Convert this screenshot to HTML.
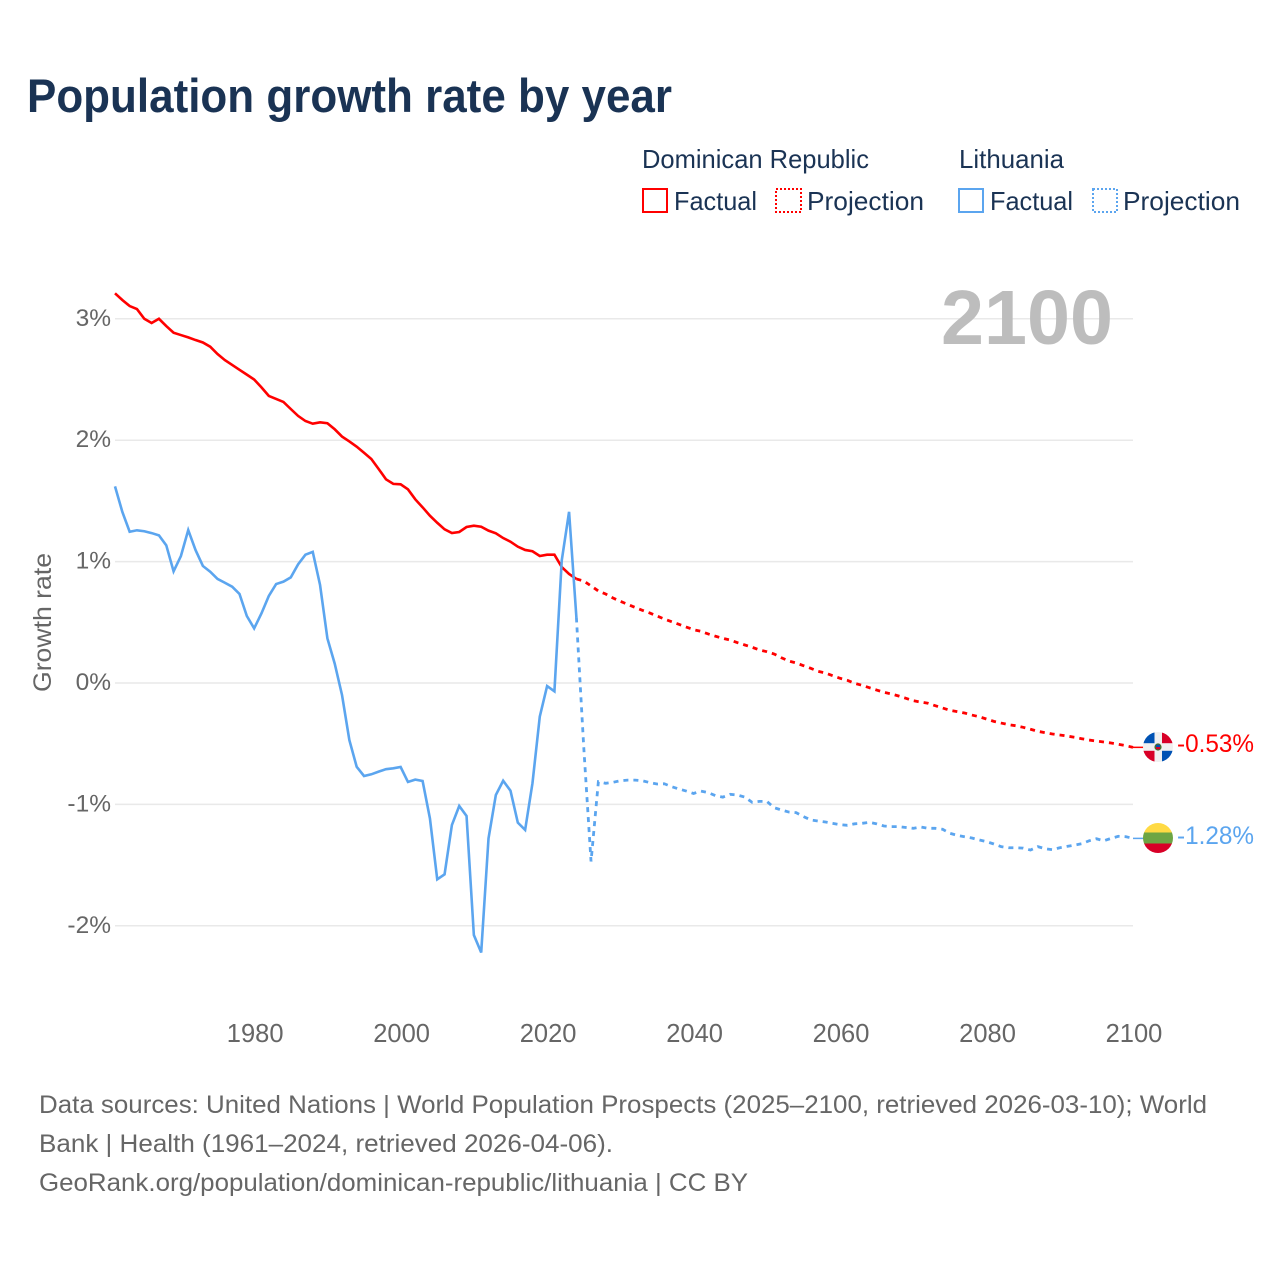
<!DOCTYPE html>
<html lang="en">
<head>
<meta charset="utf-8">
<title>Population growth rate by year</title>
<style>
  html, body { margin: 0; padding: 0; background: #fff; }
  svg { display: block; font-family: "Liberation Sans", sans-serif; }
</style>
</head>
<body>
<svg id="chart" xmlns="http://www.w3.org/2000/svg" width="1280" height="1280" viewBox="0 0 1280 1280">
  <rect x="0" y="0" width="1280" height="1280" fill="#ffffff"/>
  <text x="27" y="112" font-size="47" font-weight="700" fill="#1a3354" textLength="645" lengthAdjust="spacingAndGlyphs">Population growth rate by year</text>

  <g font-size="26" fill="#1a3354">
    <text x="642" y="168" textLength="227" lengthAdjust="spacingAndGlyphs">Dominican Republic</text>
    <text x="959" y="168" textLength="105" lengthAdjust="spacingAndGlyphs">Lithuania</text>
    <g>
      <rect x="643" y="189" width="24" height="23" fill="none" stroke="#ff0000" stroke-width="2"/>
      <text x="674" y="210" textLength="83" lengthAdjust="spacingAndGlyphs">Factual</text>
    </g>
    <g>
      <rect x="776" y="189" width="25" height="23" fill="none" stroke="#ff0000" stroke-width="2" stroke-dasharray="2 2"/>
      <text x="807" y="210" textLength="117" lengthAdjust="spacingAndGlyphs">Projection</text>
    </g>
    <g>
      <rect x="959" y="189" width="24" height="23" fill="none" stroke="#5ba5ef" stroke-width="2"/>
      <text x="990" y="210" textLength="83" lengthAdjust="spacingAndGlyphs">Factual</text>
    </g>
    <g>
      <rect x="1093" y="189" width="24" height="23" fill="none" stroke="#5ba5ef" stroke-width="2" stroke-dasharray="2 2"/>
      <text x="1123" y="210" textLength="117" lengthAdjust="spacingAndGlyphs">Projection</text>
    </g>
  </g>

  <g id="grid"></g>
  <text x="941" y="344" font-size="77" font-weight="700" fill="#bdbdbd" textLength="172" lengthAdjust="spacingAndGlyphs">2100</text>
  <g id="yticks"></g>
  <g id="xticks"></g>
  <text transform="translate(51,622.5) rotate(-90)" text-anchor="middle" font-size="25" fill="#666666" textLength="139" lengthAdjust="spacingAndGlyphs">Growth rate</text>
  <g id="series"></g>

  <defs>
    <clipPath id="flag-clip-do"><circle id="clip-do" cx="1158" cy="747" r="15"/></clipPath>
    <clipPath id="flag-clip-lt"><circle id="clip-lt" cx="1158" cy="838" r="15"/></clipPath>
  </defs>

  <g id="flag-do" clip-path="url(#flag-clip-do)">
    <rect x="1143" y="732" width="30" height="30" fill="#f0f0f0"/>
    <rect x="1143" y="732" width="11.5" height="11.2" fill="#0052b4"/>
    <rect x="1162" y="732" width="11" height="11.2" fill="#d80027"/>
    <rect x="1143" y="750.8" width="11.5" height="11.2" fill="#d80027"/>
    <rect x="1162" y="750.8" width="11" height="11.2" fill="#0052b4"/>
    <circle cx="1158" cy="747" r="3.6" fill="#496e2d"/>
    <rect x="1156" y="744.8" width="4" height="2.2" fill="#0052b4"/>
    <rect x="1156" y="747" width="4" height="2.2" fill="#d80027"/>
  </g>
  <g id="flag-lt" clip-path="url(#flag-clip-lt)">
    <rect x="1143" y="823" width="30" height="10" fill="#ffda44"/>
    <rect x="1143" y="832.5" width="30" height="11" fill="#6da544"/>
    <rect x="1143" y="843.5" width="30" height="10" fill="#d80027"/>
  </g>

  <text id="end-label-do" x="1177" y="752" font-size="25" fill="#ff0000" textLength="77" lengthAdjust="spacingAndGlyphs"></text>
  <text id="end-label-lt" x="1177" y="844" font-size="25" fill="#5ba5ef" textLength="77" lengthAdjust="spacingAndGlyphs"></text>

  <g font-size="25" fill="#666666">
    <text x="39" y="1113" textLength="1168" lengthAdjust="spacingAndGlyphs">Data sources: United Nations | World Population Prospects (2025–2100, retrieved 2026-03-10); World</text>
    <text x="39" y="1152" textLength="574" lengthAdjust="spacingAndGlyphs">Bank | Health (1961–2024, retrieved 2026-04-06).</text>
    <text x="39" y="1191" textLength="709" lengthAdjust="spacingAndGlyphs">GeoRank.org/population/dominican-republic/lithuania | CC BY</text>
  </g>
</svg>

<script>
const factualStartYear = 1961;
const projectionStartYear = 2024;
const yTickValues = [3, 2, 1, 0, -1, -2];
const yTickLabels = ["3%", "2%", "1%", "0%", "-1%", "-2%"];
const xTickYears = [1980, 2000, 2020, 2040, 2060, 2080, 2100];
const xTickLabels = ["1980", "2000", "2020", "2040", "2060", "2080", "2100"];

const dominicanFactual = [
  3.21, 3.155, 3.105, 3.08, 3.0, 2.965, 3.0, 2.94, 2.885, 2.866,
  2.847, 2.825, 2.805, 2.77, 2.71, 2.66, 2.62, 2.58, 2.54, 2.50,
  2.435, 2.365, 2.34, 2.315, 2.257, 2.2, 2.158, 2.136, 2.147, 2.14,
  2.09, 2.03, 1.99, 1.947, 1.897, 1.845, 1.763, 1.678, 1.64, 1.637,
  1.595, 1.513, 1.447, 1.378, 1.32, 1.266, 1.235, 1.244, 1.285, 1.296,
  1.287, 1.255, 1.233, 1.194, 1.164, 1.123, 1.096, 1.085, 1.046, 1.057,
  1.057, 0.955, 0.898, 0.857
];
const dominicanProjection = [
  0.857, 0.84, 0.80, 0.758, 0.733, 0.70,
  0.673, 0.648, 0.623, 0.599, 0.577, 0.552, 0.527, 0.505, 0.483, 0.461,
  0.439, 0.426, 0.404, 0.385, 0.368, 0.354, 0.332, 0.313, 0.294, 0.272,
  0.258, 0.239, 0.208, 0.181, 0.165, 0.143, 0.121, 0.096, 0.082, 0.06,
  0.039, 0.022, -0.003, -0.019, -0.039, -0.058, -0.077, -0.09, -0.107, -0.126,
  -0.146, -0.157, -0.167, -0.187, -0.206, -0.225, -0.236, -0.247, -0.264, -0.278,
  -0.297, -0.316, -0.33, -0.343, -0.352, -0.365, -0.381, -0.398, -0.409, -0.42,
  -0.428, -0.437, -0.447, -0.459, -0.47, -0.478, -0.486, -0.494, -0.505, -0.516,
  -0.53
];
const lithuaniaFactual = [
  1.62, 1.41, 1.246, 1.258, 1.25, 1.235, 1.216, 1.134, 0.92, 1.046,
  1.26, 1.095, 0.964, 0.917, 0.857, 0.826, 0.793, 0.733, 0.552, 0.45,
  0.574, 0.717, 0.815, 0.835, 0.87, 0.977, 1.057, 1.08, 0.807, 0.368,
  0.16, -0.1, -0.47, -0.69, -0.766, -0.752, -0.73, -0.71, -0.703, -0.692,
  -0.815, -0.796, -0.807, -1.115, -1.617, -1.576, -1.17, -1.013, -1.095, -2.076,
  -2.22, -1.28, -0.923, -0.805, -0.887, -1.15, -1.21, -0.826, -0.277, -0.025,
  -0.068, 1.01, 1.41, 0.54
];
const lithuaniaProjection = [
  0.54, -0.525, -1.47, -0.813, -0.826, -0.818,
  -0.805, -0.80, -0.80, -0.805, -0.82, -0.832, -0.83, -0.854, -0.873, -0.89,
  -0.91, -0.89, -0.903, -0.928, -0.94, -0.917, -0.923, -0.94, -0.983, -0.975,
  -0.975, -1.027, -1.046, -1.063, -1.068, -1.10, -1.128, -1.137, -1.145, -1.156,
  -1.167, -1.172, -1.16, -1.156, -1.148, -1.16, -1.178, -1.183, -1.183, -1.19,
  -1.197, -1.186, -1.197, -1.197, -1.205, -1.238, -1.255, -1.266, -1.277, -1.293,
  -1.307, -1.326, -1.348, -1.357, -1.357, -1.36, -1.376, -1.348, -1.365, -1.373,
  -1.357, -1.346, -1.335, -1.324, -1.30, -1.283, -1.30, -1.28, -1.263, -1.266,
  -1.28
];

const SVG_NS = "http://www.w3.org/2000/svg";
const PLOT_LEFT = 115, PLOT_RIGHT = 1133;
const YEAR_MIN = 1961, YEAR_MAX = 2100;
const Y_ZERO = 683, PX_PER_PERCENT = 121.4;

function xScale(year) {
  return PLOT_LEFT + (year - YEAR_MIN) * (PLOT_RIGHT - PLOT_LEFT) / (YEAR_MAX - YEAR_MIN);
}
function yScale(value) {
  return Y_ZERO - value * PX_PER_PERCENT;
}
function make(tag) {
  return document.createElementNS(SVG_NS, tag);
}
function linePath(values, startYear) {
  return values.map(function (v, i) {
    return (i ? "L" : "M") + xScale(startYear + i).toFixed(2) + " " + yScale(v).toFixed(2);
  }).join(" ");
}
function formatPercent(v) {
  return v.toFixed(2) + "%";
}

const gridGroup = document.getElementById("grid");
const yTickGroup = document.getElementById("yticks");
yTickValues.forEach(function (v, i) {
  const gl = make("line");
  
  
  gl.setAttribute("x1", PLOT_LEFT);
  gl.setAttribute("x2", PLOT_RIGHT);
  gl.setAttribute("y1", yScale(v));
  gl.setAttribute("y2", yScale(v));
  gl.setAttribute("stroke", "#e9e9e9");
  gl.setAttribute("stroke-width", "1.5");
  gridGroup.appendChild(gl);

  const t = make("text");
  
  
  t.setAttribute("x", 111);
  t.setAttribute("y", yScale(v) + 7);
  t.setAttribute("text-anchor", "end");
  t.setAttribute("font-size", "24.5");
  t.setAttribute("fill", "#666666");
  t.textContent = yTickLabels[i];
  yTickGroup.appendChild(t);
});

const xTickGroup = document.getElementById("xticks");
xTickYears.forEach(function (yr, i) {
  const t = make("text");
  
  
  t.setAttribute("x", xScale(yr) + 1);
  t.setAttribute("y", 1042);
  t.setAttribute("text-anchor", "middle");
  t.setAttribute("font-size", "25.5");
  t.setAttribute("fill", "#666666");
  t.textContent = xTickLabels[i];
  xTickGroup.appendChild(t);
});

const seriesGroup = document.getElementById("series");

const domFactualLine = make("path");


domFactualLine.setAttribute("d", linePath(dominicanFactual, factualStartYear));
domFactualLine.setAttribute("fill", "none");
domFactualLine.setAttribute("stroke", "#ff0000");
domFactualLine.setAttribute("stroke-width", "2.6");
seriesGroup.appendChild(domFactualLine);

const domProjectionLine = make("path");


domProjectionLine.setAttribute("d", linePath(dominicanProjection, projectionStartYear));
domProjectionLine.setAttribute("fill", "none");
domProjectionLine.setAttribute("stroke", "#ff0000");
domProjectionLine.setAttribute("stroke-width", "2.8");
domProjectionLine.setAttribute("stroke-dasharray", "5 5");
seriesGroup.appendChild(domProjectionLine);

const litFactualLine = make("path");


litFactualLine.setAttribute("d", linePath(lithuaniaFactual, factualStartYear));
litFactualLine.setAttribute("fill", "none");
litFactualLine.setAttribute("stroke", "#5ba5ef");
litFactualLine.setAttribute("stroke-width", "2.6");
seriesGroup.appendChild(litFactualLine);

const litProjectionLine = make("path");


litProjectionLine.setAttribute("d", linePath(lithuaniaProjection, projectionStartYear));
litProjectionLine.setAttribute("fill", "none");
litProjectionLine.setAttribute("stroke", "#5ba5ef");
litProjectionLine.setAttribute("stroke-width", "2.8");
litProjectionLine.setAttribute("stroke-dasharray", "5 5");
seriesGroup.appendChild(litProjectionLine);

const domEnd = dominicanProjection[dominicanProjection.length - 1];
const litEnd = lithuaniaProjection[lithuaniaProjection.length - 1];

const domLeader = make("line");


domLeader.setAttribute("x1", PLOT_RIGHT);
domLeader.setAttribute("x2", 1144);
domLeader.setAttribute("y1", yScale(domEnd));
domLeader.setAttribute("y2", yScale(domEnd));
domLeader.setAttribute("stroke", "#ff0000");
domLeader.setAttribute("stroke-width", "1.5");
seriesGroup.appendChild(domLeader);

const litLeader = make("line");


litLeader.setAttribute("x1", PLOT_RIGHT);
litLeader.setAttribute("x2", 1144);
litLeader.setAttribute("y1", yScale(litEnd));
litLeader.setAttribute("y2", yScale(litEnd));
litLeader.setAttribute("stroke", "#5ba5ef");
litLeader.setAttribute("stroke-width", "1.5");
seriesGroup.appendChild(litLeader);

document.getElementById("end-label-do").textContent = formatPercent(domEnd);
document.getElementById("end-label-lt").textContent = formatPercent(litEnd);
</script>
</body>
</html>
